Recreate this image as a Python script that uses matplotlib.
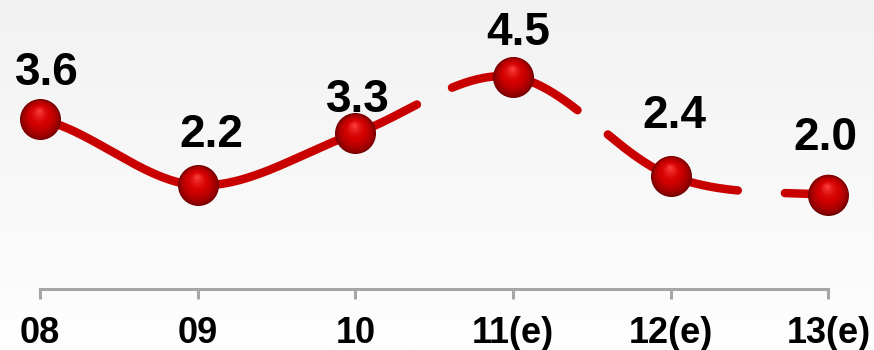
import numpy as np
import matplotlib
matplotlib.use('Agg')
import matplotlib.pyplot as plt
from matplotlib.transforms import offset_copy
from matplotlib.colors import to_rgb

years = ['08', '09', '10', '11(e)', '12(e)', '13(e)']
growth = [3.6, 2.2, 3.3, 4.5, 2.4, 2.0]
n_actual = 3  # 08-10 are actuals, the rest are estimates

# nudges for the value labels, in pixels (x shift, baseline height above the point)
label_dx = [7, 14, 2, 5, 4, -3]
label_dy = [34, 38, 21, 32, 48, 45]

LINE = '#c80000'
GREY = '#a6a6a6'

plt.rcParams['lines.scale_dashes'] = False


def smooth_segments(ys, per=80):
    # cubic hermite through the points, catmull-rom style tangents
    ys = np.asarray(ys, float)
    m = np.empty_like(ys)
    m[1:-1] = (ys[2:] - ys[:-2]) / 2
    m[0] = (ys[1] - ys[0]) / 2
    m[-1] = (ys[-1] - ys[-2]) / 2
    t = np.linspace(0, 1, per)
    h00 = 2 * t**3 - 3 * t**2 + 1
    h10 = t**3 - 2 * t**2 + t
    h01 = -2 * t**3 + 3 * t**2
    h11 = t**3 - t**2
    segs = []
    for i in range(len(ys) - 1):
        sx = i + t
        sy = h00 * ys[i] + h10 * m[i] + h01 * ys[i + 1] + h11 * m[i + 1]
        segs.append((sx, sy))
    return segs


fig = plt.figure(figsize=(8.74, 3.5), dpi=100)

# soft grey-to-white backdrop
bg = fig.add_axes([0, 0, 1, 1], zorder=0)
top = np.array(to_rgb('#f2f2f2'))
bot = np.array(to_rgb('#fefefe'))
grad = np.linspace(0, 1, 256)[:, None, None]
bg.imshow(top + (bot - top) * grad, aspect='auto', extent=[0, 1, 0, 1])
bg.axis('off')

ax = fig.add_axes([0, 0.1743, 1, 1 - 0.1743], zorder=1)
ax.set_facecolor('none')
x = np.arange(len(years))
ax.set_xlim(-0.254, 5.289)
ax.set_ylim(0.0, 6.13)

segs = smooth_segments(growth)
sx = np.concatenate([s[0] for s in segs[:n_actual - 1]])
sy = np.concatenate([s[1] for s in segs[:n_actual - 1]])
ax.plot(sx, sy, color=LINE, lw=6.1, solid_capstyle='round', zorder=2)

# estimates continue as a long-dash line
ex = np.concatenate([s[0] for s in segs[n_actual - 1:]])
ey = np.concatenate([s[1] for s in segs[n_actual - 1:]])
ax.plot(ex, ey, color=LINE, lw=6.1, dash_capstyle='round',
        linestyle=(49, (98, 28, 98, 28, 104, 34)), zorder=2)

# shaded balls on each point
D = 29.5
steps = 30
dark = np.array(to_rgb('#6e0000'))
mid = np.array(to_rgb('#d40000'))
light = np.array(to_rgb('#ff4040'))
for k in range(steps):
    f = 1 - k / steps
    u = k / (steps - 1)
    if u < 0.5:
        c = dark + (mid - dark) * (u / 0.5) ** 0.6
    else:
        c = mid + (light - mid) * ((u - 0.5) / 0.5) ** 1.5
    shift = (1 - f) * D * 0.22
    tr = offset_copy(ax.transData, fig=fig, x=-shift * 0.15, y=shift, units='points')
    ax.scatter(x, growth, s=(D * f) ** 2, color=c, lw=0, transform=tr, zorder=3 + k * 0.01)

for i, v in enumerate(growth):
    ax.annotate(f'{v:.1f}', (x[i], v), xytext=(label_dx[i], label_dy[i]),
                textcoords='offset pixels', ha='center', va='baseline',
                fontsize=33, fontweight='bold', family='Liberation Sans',
                color='black', zorder=5)

ax.set_xticks(x, years, fontsize=26, fontweight='bold', family='Liberation Sans')
ax.set_yticks([])
ax.tick_params(axis='x', length=7.2, width=2.2, color=GREY, pad=12, labelcolor='black')
for side in ['top', 'left', 'right']:
    ax.spines[side].set_visible(False)
ax.spines['bottom'].set_bounds(0, 5)
ax.spines['bottom'].set_linewidth(2.2)
ax.spines['bottom'].set_color(GREY)

fig.savefig('out.png', dpi=100)
